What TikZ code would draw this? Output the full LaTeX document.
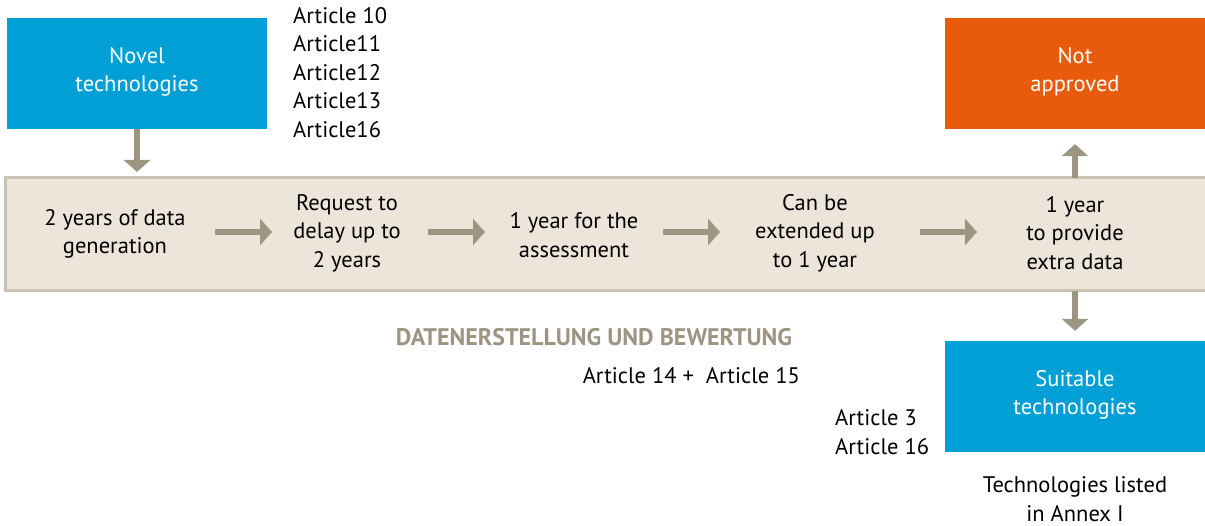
\documentclass[tikz,border=0pt]{standalone}
\usepackage{fontspec}
\setmainfont{PT Sans}
\usetikzlibrary{arrows.meta}
\definecolor{techblue}{HTML}{00A0D6}
\definecolor{rejectorange}{HTML}{E85A0C}
\definecolor{bandfill}{HTML}{EDE5D9}
\definecolor{bandline}{HTML}{CBC2B1}
\definecolor{khaki}{HTML}{9C9581}
\tikzset{
  box/.style={fill=#1, minimum width=260pt, minimum height=111pt, inner sep=0pt},
  boxtext/.style={text=white, inner sep=0pt, align=center,
    font=\fontsize{22.5}{28}\selectfont},
  label/.style={align=center, inner sep=0pt, font=\fontsize{22.5}{28.5}\selectfont},
  leftlabel/.style={align=left, inner sep=0pt, font=\fontsize{22.5}{28.5}\selectfont},
  flow/.style={draw=khaki, line width=6pt,
    -{Triangle[width=26pt,length=12pt]}},
}
\begin{document}
\begin{tikzpicture}[x=1pt,y=-1pt]
\useasboundingbox (0,0) rectangle (1205,526);
% timeline band
\fill[bandfill] (5,178) rectangle (1210,291);
\draw[bandline, line width=3pt] (1210,178) -- (5,178) -- (5,291) -- (1210,291);
\coordinate (bandtopL) at (137,178);
\coordinate (bandtopR) at (1075,178);
\coordinate (bandbotR) at (1075,291);
% boxes
\node[box=techblue] (novel) at (137,73.5) {};
\node[boxtext] (novelt) at (137,72) {Novel\\technologies};
\node[box=rejectorange] (reject) at (1075,73.5) {};
\node[boxtext] (rejectt) at (1075,72) {Not\\approved};
\node[box=techblue] (suitable) at (1075,396.5) {};
\node[boxtext] (suitablet) at (1075,395) {Suitable\\technologies};
% steps in the band
\node[label] (s1) at (115,234) {2 years of data\\generation};
\node[label] (s2) at (347,233) {Request to\\delay up to\\2 years};
\node[label] (s3) at (574,235) {1 year for the\\assessment};
\node[label] (s4) at (815,233) {Can be\\extended up\\to 1 year};
\node[label] (s5) at (1075,233) {1 year\\to provide\\extra data};
% legal references
\node[leftlabel, anchor=north west] (arts) at (293,7) {Article 10\\Article11\\Article12\\Article13\\Article16};
\node[font=\fontsize{24}{26}\selectfont\bfseries, text=khaki, inner sep=0pt] (phase) at (594,337) {DATENERSTELLUNG UND BEWERTUNG};
\node[label, anchor=east] (art1415) at (800,376) {Article 14 +\ \ Article 15};
\node[leftlabel, anchor=west] (art316) at (835,432) {Article 3\\Article 16};
\node[label] (annex) at (1075,499) {Technologies listed\\in Annex I};
% arrows
\coordinate (a1s) at (215,232); \coordinate (a1e) at (272,232);
\coordinate (a2s) at (428,232); \coordinate (a2e) at (485,232);
\coordinate (a3s) at (663,232); \coordinate (a3e) at (720,232);
\coordinate (a4s) at (920,232); \coordinate (a4e) at (977,232);
\draw[flow] (a1s) -- (a1e);
\draw[flow] (a2s) -- (a2e);
\draw[flow] (a3s) -- (a3e);
\draw[flow] (a4s) -- (a4e);
\draw[flow, shorten >=6pt] (novel.south) -- (bandtopL);
\draw[flow, shorten >=15pt] (bandtopR) -- (reject.south);
\draw[flow, shorten >=10pt] (bandbotR) -- (suitable.north);
\end{tikzpicture}
\end{document}
